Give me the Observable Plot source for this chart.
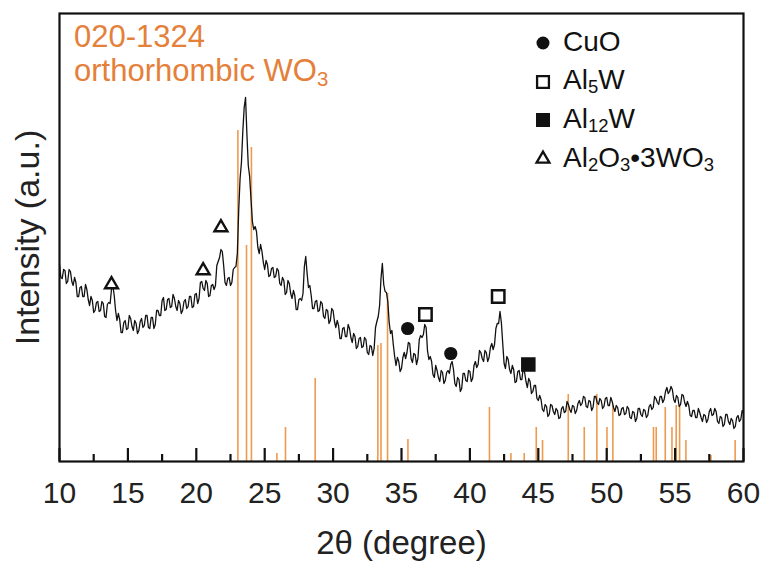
<!DOCTYPE html>
<html><head><meta charset="utf-8">
<script src="https://cdn.jsdelivr.net/npm/d3@7"></script>
<script src="https://cdn.jsdelivr.net/npm/@observablehq/plot@0.6"></script>
<style>
body{margin:0;background:#fff;}
#wrap{position:relative;width:764px;height:562px;font-family:"Liberation Sans",Arial,sans-serif;overflow:hidden;}
#wrap svg.plot{position:absolute;left:0;top:0;}
.ann{position:absolute;left:74px;top:19.5px;color:#E5803A;font-size:31px;line-height:34.5px;white-space:nowrap;}
.legrow{position:absolute;left:563px;font-size:28px;line-height:38.8px;color:#111;white-space:nowrap;}
.legsym{position:absolute;width:24px;height:24px;}
sub{font-size:0.66em;vertical-align:-0.22em;line-height:0;}
</style></head>
<body>
<div id="wrap"></div>
<script>
// XRD pattern: intensity read at 10.0, 10.2, ... 60.0 (a.u.)
const xStart = 10, xStep = 0.2;
const intensity = [
197,183,191,180,190,176,179,165,175,165,
172,156,161,151,160,151,158,144,159,172,
166,141,142,129,141,133,143,131,138,131,
143,136,146,133,144,137,151,146,164,152,
163,155,163,151,158,151,162,155,165,155,
168,163,180,171,178,166,177,176,200,212,
196,176,184,179,194,208,283,330,364,296,
262,232,230,208,210,192,197,186,194,185,
191,176,181,169,178,163,166,152,163,168,
205,174,166,153,161,151,158,143,151,141,
151,134,136,123,134,125,133,119,125,115,
124,115,122,107,115,113,140,156,198,170,
160,128,117,96,100,93,109,109,118,99,
107,103,126,127,134,102,100,84,91,80,
89,81,91,97,92,75,82,73,88,80,
90,83,100,97,109,100,109,104,118,117,
138,150,118,93,102,88,92,80,91,82,
89,74,80,70,76,61,62,50,55,47,
56,47,51,44,55,50,57,49,55,51,
61,58,64,54,60,54,65,57,61,55,
64,56,60,50,54,47,54,48,53,43,
49,43,53,45,51,46,57,54,63,57,
65,62,74,70,72,59,64,57,66,55,
56,45,51,44,49,40,46,42,53,47,
50,38,44,37,47,37,41,35,46,42,48
];
// intensity read at the half steps 10.1, 10.3, ... 59.9 (a.u.)
const intensityMid = [
184,192,178,192,180,184,165,174,165,177,
162,165,149,159,150,160,145,157,158,176,
151,148,129,139,132,146,135,141,128,140,
134,146,134,144,133,151,146,161,151,162,
154,167,155,161,148,160,153,165,154,167,
158,179,173,181,165,176,172,196,204,210,
179,183,176,192,195,251,299,354,327,285,
240,235,214,217,199,201,185,193,184,193,
178,184,167,181,168,171,152,162,161,195,
188,176,153,160,150,160,145,152,138,153,
140,141,123,133,125,137,124,128,113,123,
114,124,109,116,106,134,145,183,177,169,
139,131,105,104,90,104,103,119,103,108,
97,122,124,137,111,105,87,96,84,91,
78,89,88,100,78,84,70,88,81,91,
80,96,94,111,103,111,100,114,112,133,
138,139,98,105,92,96,79,90,82,94,
80,83,68,76,63,66,52,57,45,57,
50,53,43,53,49,60,52,56,48,58,
56,65,55,61,51,65,59,63,53,63,
56,64,54,56,46,53,47,55,44,50,
40,53,47,52,44,55,52,65,59,65,
59,70,68,75,62,66,55,67,59,60,
46,51,44,53,44,47,39,50,46,53,
40,45,35,47,40,43,33,44,40,51
];

// Reference pattern 020-1324 orthorhombic WO3 (stick positions and heights)
const stickPos = [23.04,23.67,24.03,25.89,26.52,28.69,33.27,33.5,33.98,35.47,41.43,43.0,43.97,44.85,45.31,47.19,48.36,49.28,50.02,50.45,53.42,53.62,54.28,54.77,55.08,55.33,55.79,57.62,59.39];
const stickHeight = [331,216,314,8,34,83,116,118,168,22,54,8,8,34,21,67,34,67,34,56,34,34,54,34,56,56,21,6,21];

// Phase markers
const markerX = [13.8,20.5,21.8,35.45,36.75,38.6,42.07,44.27];
const markerY = [177,191,234,133,147,108,165,97];
const markerType = ["tri","tri","tri","CuO","Al5W","CuO","Al5W","Al12W"];

const majorTicks = [10,15,20,25,30,35,40,45,50,55,60];
const minorTicks = [12.5,17.5,22.5,27.5,32.5,37.5,42.5,47.5,52.5,57.5];

const legendLabels = ["CuO","Al<sub>5</sub>W","Al<sub>12</sub>W","Al<sub>2</sub>O<sub>3</sub>•3WO<sub>3</sub>"];
const legendSymbols = ["circle","square","square","triangle"];
const legendFilled = [true,false,true,false];

const xLabel = "2θ (degree)";
const yLabel = "Intensity (a.u.)";

const pattern = [];
intensity.forEach((v,i)=>{
  pattern.push({x: +(xStart + i*xStep).toFixed(2), y: v});
  if (i < intensityMid.length) pattern.push({x: +(xStart + i*xStep + xStep/2).toFixed(2), y: intensityMid[i]});
});
const sticks = stickPos.map((p,i)=>({x:p, h:stickHeight[i]}));
const markers = markerX.map((x,i)=>({x, y:markerY[i], t:markerType[i]}));

const chart = Plot.plot({
  width: 764, height: 562,
  marginLeft: 59, marginRight: 21, marginTop: 13, marginBottom: 101,
  x: {domain: [10, 60]},
  y: {domain: [0, 448], axis: null},
  style: {fontFamily: "'Liberation Sans', Arial, sans-serif", background: "white", color: "#111"},
  marks: [
    Plot.ruleX(sticks, {x: "x", y1: 0, y2: "h", stroke: "#EE9A4E", strokeWidth: 1.6}),
    Plot.line(pattern, {x: "x", y: "y", stroke: "#111", strokeWidth: 1.3}),
    Plot.ruleX(majorTicks, {x: d=>d, y1: 0, y2: 13, stroke: "#111", strokeWidth: 2.2}),
    Plot.ruleX(minorTicks, {x: d=>d, y1: 0, y2: 7, stroke: "#111", strokeWidth: 2.2}),
    Plot.frame({stroke: "#111", strokeWidth: 2.2}),
    Plot.axisX(majorTicks, {tickSize: 0, tickPadding: 20, fontSize: 30, label: null, fill: "#222"}),
    Plot.dot(markers.filter(d=>d.t==="CuO"), {x: "x", y: "y", symbol: "circle", r: 6.6, fill: "#111", stroke: "none"}),
    Plot.dot(markers.filter(d=>d.t==="Al12W"), {x: "x", y: "y", symbol: "square", r: 8.2, fill: "#111", stroke: "none"}),
    Plot.dot(markers.filter(d=>d.t==="Al5W"), {x: "x", y: "y", symbol: "square", r: 7.0, fill: "white", stroke: "#111", strokeWidth: 2.5}),
    Plot.dot(markers.filter(d=>d.t==="tri"), {x: "x", y: "y", symbol: "triangle", r: 4.8, fill: "white", stroke: "#111", strokeWidth: 2.4, strokeLinejoin: "miter"}),
    Plot.text([xLabel], {text: d=>d, frameAnchor: "bottom", lineAnchor: "middle", textAnchor: "middle", dy: 82, fontSize: 33, fill: "#222"}),
    Plot.text([yLabel], {text: d=>d, frameAnchor: "left", lineAnchor: "middle", textAnchor: "middle", rotate: -90, dx: -31, fontSize: 34, fill: "#222"})
  ]
});
chart.classList.add("plot");
const wrap = document.getElementById("wrap");
wrap.appendChild(chart);

// annotation
const ann = document.createElement("div");
ann.className = "ann";
ann.innerHTML = "020-1324<br>orthorhombic WO<sub>3</sub>";
wrap.appendChild(ann);

// legend
legendLabels.forEach((lab,i)=>{
  const baseline = 51.7 + 38.8*i;
  const row = document.createElement("div");
  row.className = "legrow";
  row.style.top = (baseline - 29.1) + "px";
  row.innerHTML = lab;
  wrap.appendChild(row);
  const s = d3.create("svg").attr("class","legsym").attr("width",24).attr("height",24)
    .style("left", (543-12)+"px").style("top", (baseline-9-12)+"px");
  const type = legendSymbols[i];
  const size = type==="circle" ? 133 : type==="triangle" ? 72 : (legendFilled[i] ? 196 : 140);
  const sym = type==="circle" ? d3.symbolCircle : type==="triangle" ? d3.symbolTriangle : d3.symbolSquare;
  s.append("path").attr("d", d3.symbol(sym, size)()).attr("transform","translate(12,12)")
    .attr("fill", legendFilled[i] ? "#111" : "white")
    .attr("stroke", legendFilled[i] ? "none" : "#111")
    .attr("stroke-width", 2.3);
  wrap.appendChild(s.node());
});
</script>
</body></html>
